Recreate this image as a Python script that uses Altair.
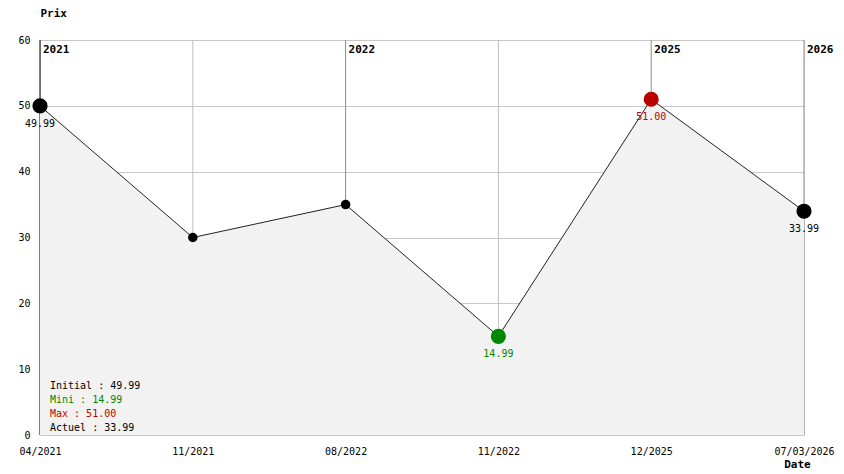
import altair as alt
import pandas as pd

labels = ["04/2021", "11/2021", "08/2022", "11/2022", "12/2025", "07/03/2026"]
prices = [49.99, 30.0, 35.0, 14.99, 51.00, 33.99]
point_kind = ["big", "small", "small", "big", "big", "big"]
point_color = ["#000000", "#000000", "#000000", "#008800", "#bb0000", "#000000"]
point_text = ["49.99", "", "", "14.99", "51.00", "33.99"]
year_marks = ["2021", "", "2022", "", "2025", "2026"]
rule_color = ["#000000", "#c0c0c0", "#8c8c8c", "#c0c0c0", "#8c8c8c", "#8c8c8c"]
legend_lines = ["Initial : 49.99", "Mini : 14.99", "Max : 51.00", "Actuel : 33.99"]
legend_colors = ["#000000", "#008800", "#bb0000", "#000000"]

df = pd.DataFrame({
    "label": labels, "price": prices, "kind": point_kind, "color": point_color,
    "ptext": point_text, "year": year_marks, "rcolor": rule_color, "top": [60] * len(labels),
})

FONT = "DejaVu Sans Mono"
W, H = 764, 395

xaxis = alt.Axis(title="Date", labelAngle=0, ticks=False, domain=False, grid=False,
                 labelPadding=11, labelFont=FONT, labelFontSize=10, labelColor="#000",
                 titleFont=FONT, titleFontSize=11, titleFontWeight="bold",
                 titleX=757, titleY=29, titleAlign="center", titleBaseline="middle",
                 labelOverlap=False)
xscale = alt.Scale(type="point", padding=0)
yscale = alt.Scale(domain=[0, 60], nice=False, zero=True)
yaxis = alt.Axis(title="Prix", values=[0, 10, 20, 30, 40, 50, 60], ticks=False, domain=False,
                 grid=True, gridColor="#c8c8c8", labelPadding=10, labelFont=FONT,
                 labelFontSize=10, labelColor="#000",
                 titleFont=FONT, titleFontSize=11, titleFontWeight="bold", titleAngle=0,
                 titleX=0, titleY=-27, titleAlign="left", titleBaseline="middle")

xenc = alt.X("label:O", sort=labels, scale=xscale, axis=xaxis)
yenc = alt.Y("price:Q", scale=yscale, axis=yaxis)

base = alt.Chart(df)

rules = base.mark_rule(strokeWidth=1).encode(
    x=xenc,
    y=alt.Y("top:Q", scale=yscale, axis=yaxis), y2=alt.datum(0),
    color=alt.Color("rcolor:N", scale=None))
area = base.mark_area(color="#f2f2f2", opacity=1).encode(x=xenc, y=yenc)
line = base.mark_line(color="#222222", strokeWidth=1).encode(x=xenc, y=yenc)
points = base.mark_circle(opacity=1).encode(
    x=xenc, y=yenc,
    size=alt.Size("kind:N", scale=alt.Scale(domain=["big", "small"], range=[230, 90]), legend=None),
    color=alt.Color("color:N", scale=None))
ptexts = base.mark_text(font=FONT, fontSize=10, dy=18, baseline="middle", align="center").encode(
    x=xenc, y=yenc, text="ptext:N", color=alt.Color("color:N", scale=None))
years = base.mark_text(font=FONT, fontSize=11, fontWeight="bold", align="left", baseline="middle",
                       dx=3, color="#000").encode(
    x=xenc, y=alt.value(10), text="year:N")

legend_layers = []
for i, (t, c) in enumerate(zip(legend_lines, legend_colors)):
    legend_layers.append(
        alt.Chart(df).mark_text(font=FONT, fontSize=10, align="left", baseline="middle", color=c).encode(
            x=alt.value(10), y=alt.value(346 + 14 * i), text=alt.value(t)
        ).transform_filter(alt.datum.label == labels[0])
    )

chart = alt.layer(rules, area, line, points, ptexts, years, *legend_layers).properties(
    width=W, height=H,
    autosize=alt.AutoSizeParams(type="none"),
    padding={"left": 32, "top": 32, "right": 32, "bottom": 36},
).configure_view(stroke=None).configure(background="white")

chart.save("out.html", embed_options={"renderer": "svg", "actions": False})
